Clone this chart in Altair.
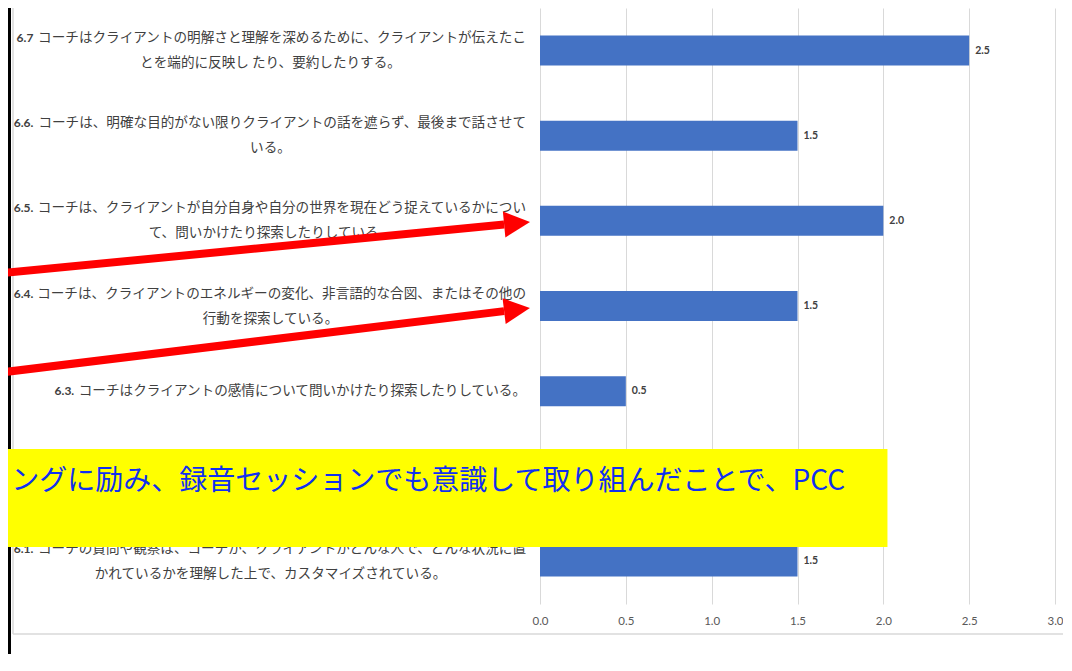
import altair as alt

# ---------------- data ----------------
categories = ["6.7", "6.6", "6.5", "6.4", "6.3", "6.2", "6.1"]
prefixes = ["6.7", "6.6.", "6.5.", "6.4.", "6.3.", "6.2.", "6.1."]
line1 = [
    "コーチはクライアントの明解さと理解を深めるために、クライアントが伝えたこ",
    "コーチは、明確な目的がない限りクライアントの話を遮らず、最後まで話させて",
    "コーチは、クライアントが自分自身や自分の世界を現在どう捉えているかについ",
    "コーチは、クライアントのエネルギーの変化、非言語的な合図、またはその他の",
    "コーチはクライアントの感情について問いかけたり探索したりしている。",
    "コーチは、クライアントが使う言葉について問いかけたり探索したりしている。",
    "コーチの質問や観察は、コーチが、クライアントがどんな人で、どんな状況に置",
]
line2 = [
    "とを端的に反映し たり、要約したりする。",
    "いる。",
    "て、問いかけたり探索したりしている。",
    "行動を探索している。",
    "",
    "",
    "かれているかを理解した上で、カスタマイズされている。",
]
values = [2.5, 1.5, 2.0, 1.5, 0.5, 1.0, 1.5]
x_ticks = [0.0, 0.5, 1.0, 1.5, 2.0, 2.5, 3.0]

# annotation overlay (x in value units, y in row units from the top)
arrow_x_start = [-3.1165, -3.1165]
arrow_row_start = [3.111, 4.275]
arrow_x_end = [-0.209, -0.209]
arrow_row_end = [2.543, 3.560]
arrow_angle = [354.46, 353.05]

banner_x = [-3.3]
banner_x2 = [2.024]
banner_row = [5.180]
banner_row2 = [6.331]
banner_text = ["ングに励み、録音セッションでも意識して取り組んだことで、PCC"]
banner_text_x = [1.7767]
banner_text_row = [5.567]

frame_left_x = [-3.0903]
frame_gray_x = [-3.0699]
frame_bottom_row = [7.352]

# ---------------- layout constants ----------------
W, H = 515, 596
PX = W / 3.0
FS = 13.6
JP = "Noto Sans CJK JP"
LAT = "Lato"

rows = [
    {"cat": c, "prefix": p, "rest": a, "l2": b, "value": v, "two": 1 if b else 0}
    for c, p, a, b, v in zip(categories, prefixes, line1, line2, values)
]
main = alt.Data(values=rows)

XS = alt.Scale(domain=[0, 3], nice=False, zero=False)
AX = alt.Axis(values=x_ticks, format=".1f", domain=False, ticks=False,
              grid=True, gridColor="#d9d9d9", gridWidth=1,
              labelFont=LAT, labelFontSize=11.5, labelColor="#595959",
              labelPadding=11, labelFlush=False, title=None)
ROW = alt.Scale(domain=[0, 7], reverse=True, nice=False, zero=False)
YB = alt.Y("cat:N", sort=categories, axis=None,
           scale=alt.Scale(domain=categories, paddingInner=0, paddingOuter=0))


def X(field):
    return alt.X(field, scale=XS, axis=AX, title=None)


def YR(field):
    return alt.Y(field, scale=ROW, axis=None)


bars = alt.Chart(main).mark_bar(size=30, color="#4472C4").encode(
    x=X("value:Q"), y=YB,
)

vlabels = alt.Chart(main).mark_text(
    align="left", baseline="middle", dx=6, font=LAT, fontSize=10.5,
    fontWeight="bold", color="#404040"
).encode(
    x=X("value:Q"), y=YB,
    text=alt.Text("value:Q", format=".1f"),
)

REST_RIGHT = (529 - 543) / PX
base_lab = alt.Chart(main).transform_calculate(
    rx=f"{REST_RIGHT}",
    px=f"(529 - length(datum.rest)*{FS} - 3 - 543)/{PX}",
    cx=f"(273.5 - 543)/{PX}",
)


def rest_layer(two, dy):
    return base_lab.transform_filter(f"datum.two == {two}").mark_text(
        align="right", baseline="middle", dy=dy, font=JP, fontSize=FS, color="#404040"
    ).encode(x=X("rx:Q"), y=YB, text="rest:N")


def prefix_layer(two, dy):
    return base_lab.transform_filter(f"datum.two == {two}").mark_text(
        align="right", baseline="middle", dy=dy, font=LAT, fontSize=12,
        fontWeight="bold", color="#404040"
    ).encode(x=X("px:Q"), y=YB, text="prefix:N")


line2_layer = base_lab.transform_filter("datum.two == 1").mark_text(
    align="center", baseline="middle", dy=12.5, font=JP, fontSize=FS, color="#404040"
).encode(x=X("cx:Q"), y=YB, text="l2:N")

# frame lines
frame_black = alt.Chart(alt.Data(values=[{"x": frame_left_x[0], "y": 0, "y2": 7.8}])).mark_rule(
    color="#000000", strokeWidth=3
).encode(x=X("x:Q"), y=YR("y:Q"), y2="y2:Q")
frame_gray_v = alt.Chart(alt.Data(values=[{"x": frame_gray_x[0], "y": 0, "y2": frame_bottom_row[0]}])).mark_rule(
    color="#d9d9d9", strokeWidth=1.5
).encode(x=X("x:Q"), y=YR("y:Q"), y2="y2:Q")
frame_gray_h = alt.Chart(alt.Data(values=[{"x": frame_gray_x[0], "x2": 3.2, "y": frame_bottom_row[0]}])).mark_rule(
    color="#d9d9d9", strokeWidth=1.5
).encode(x=X("x:Q"), x2="x2:Q", y=YR("y:Q"))

# arrows
arrows_data = alt.Data(values=[
    {"x": a, "y": b, "x2": c, "y2": d, "ang": e}
    for a, b, c, d, e in zip(arrow_x_start, arrow_row_start, arrow_x_end, arrow_row_end, arrow_angle)
])
shafts = alt.Chart(arrows_data).mark_rule(color="#ff0000", strokeWidth=8).encode(
    x=X("x:Q"), x2="x2:Q", y=YR("y:Q"), y2="y2:Q",
)
heads = alt.Chart(arrows_data).mark_point(
    shape="M0,-1L2,0L0,1Z", size=676, filled=True, color="#ff0000", opacity=1, strokeWidth=0
).encode(
    x=X("x2:Q"), y=YR("y2:Q"),
    angle=alt.Angle("ang:Q", scale=None),
)

# banner
banner = alt.Chart(alt.Data(values=[
    {"x": banner_x[0], "x2": banner_x2[0], "y": banner_row[0], "y2": banner_row2[0]}
])).mark_rect(color="#ffff00").encode(
    x=X("x:Q"), x2="x2:Q", y=YR("y:Q"), y2="y2:Q",
)
banner_txt = alt.Chart(alt.Data(values=[
    {"x": banner_text_x[0], "y": banner_text_row[0], "t": banner_text[0]}
])).mark_text(
    align="right", baseline="middle", font=JP, fontSize=28, color="#1030f0"
).encode(
    x=X("x:Q"), y=YR("y:Q"), text="t:N",
)

chart = alt.layer(
    bars, vlabels,
    prefix_layer(1, -12.5), prefix_layer(0, 0),
    rest_layer(1, -12.5), rest_layer(0, 0),
    line2_layer,
    frame_black, frame_gray_v, frame_gray_h,
    shafts, heads,
    banner, banner_txt,
).resolve_scale(y="independent").properties(
    width=W, height=H,
    padding={"left": 532, "top": 0, "right": 8, "bottom": 50},
    autosize=alt.AutoSizeParams(type="none"),
    background="#ffffff",
).configure_view(stroke=None)

chart.save("out.html", embed_options={"renderer": "svg", "actions": False})
